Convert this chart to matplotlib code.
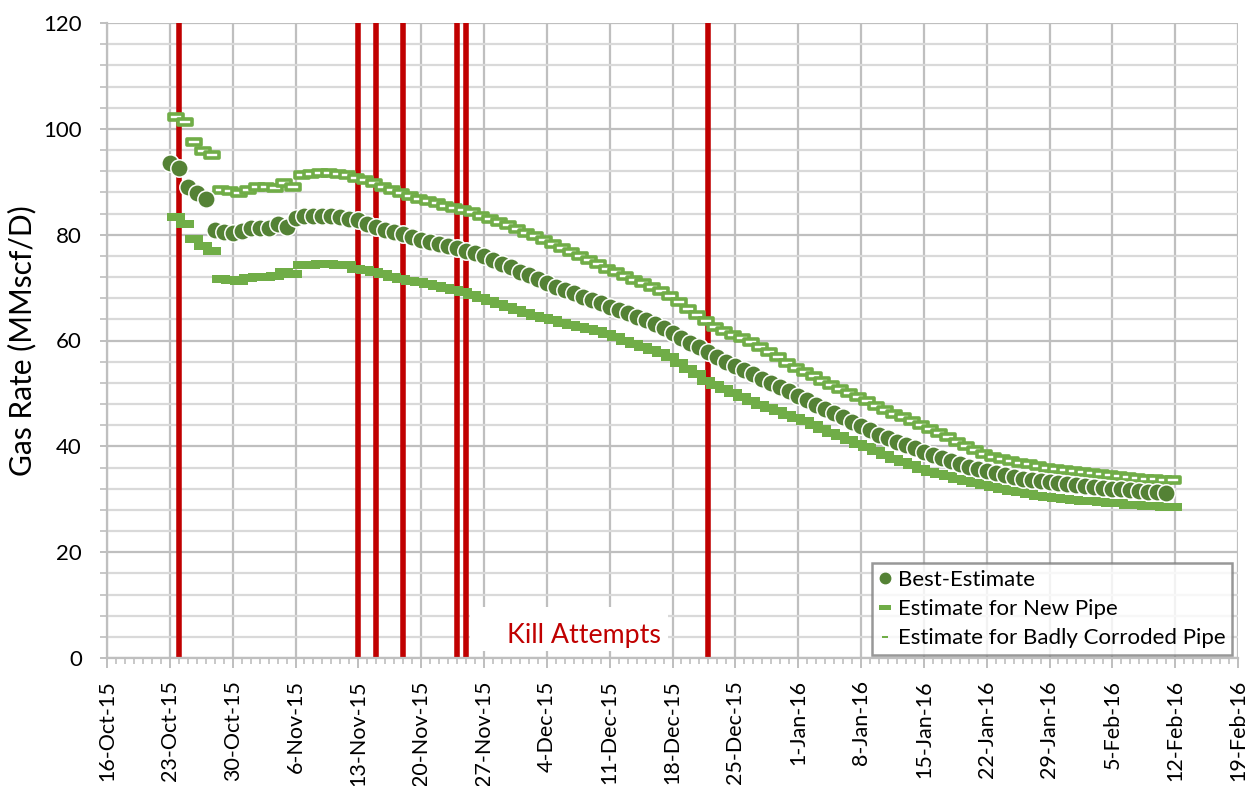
import matplotlib
matplotlib.use("Agg")
import matplotlib.pyplot as plt
import matplotlib.dates as mdates
from matplotlib.path import Path
from matplotlib.patches import Rectangle
from matplotlib.lines import Line2D
import pandas as pd

# Daily gas-rate estimates (MMscf/D), 23-Oct-15 .. 11-Feb-16
best_estimate = [
    93.6, 92.6, 89.0, 87.9, 86.8, 80.9, 80.5, 80.3, 80.7, 81.3,
    81.3, 81.2, 82.0, 81.5, 83.2, 83.5, 83.6, 83.6, 83.5, 83.3,
    83.0, 82.7, 82.1, 81.4, 80.9, 80.5, 80.1, 79.6, 79.0, 78.6,
    78.2, 77.8, 77.4, 77.0, 76.5, 75.9, 75.2, 74.5, 73.8, 73.0,
    72.3, 71.6, 70.9, 70.2, 69.6, 69.0, 68.3, 67.7, 67.0, 66.4,
    65.8, 65.2, 64.5, 63.8, 63.1, 62.3, 61.4, 60.5, 59.6, 58.7,
    57.8, 56.9, 56.0, 55.2, 54.4, 53.6, 52.8, 52.0, 51.2, 50.4,
    49.5, 48.7, 47.9, 47.1, 46.3, 45.5, 44.6, 43.8, 43.0, 42.2,
    41.5, 40.9, 40.3, 39.7, 39.0, 38.4, 37.8, 37.2, 36.6, 36.1,
    35.7, 35.3, 34.9, 34.5, 34.2, 33.9, 33.6, 33.4, 33.2, 33.0,
    32.8, 32.6, 32.5, 32.3, 32.2, 32.0, 31.9, 31.7, 31.6, 31.4,
    31.3, 31.2,
]
new_pipe = [
    102.3, 101.3, 97.5, 95.9, 95.0, 88.4, 88.3, 87.9, 88.5, 89.0,
    89.0, 88.8, 89.8, 89.0, 91.3, 91.5, 91.6, 91.6, 91.5, 91.3,
    90.8, 90.4, 89.7, 89.1, 88.5, 87.9, 87.4, 86.8, 86.3, 85.9,
    85.5, 85.1, 84.7, 84.2, 83.6, 83.0, 82.4, 81.8, 81.1, 80.4,
    79.7, 79.0, 78.3, 77.5, 76.7, 76.0, 75.2, 74.4, 73.6, 72.9,
    72.2, 71.5, 70.8, 70.1, 69.4, 68.5, 67.2, 66.0, 64.8, 63.6,
    62.6, 61.8, 61.1, 60.4, 59.8, 58.8, 57.8, 56.8, 55.8, 54.8,
    54.0, 53.2, 52.4, 51.6, 50.8, 50.0, 49.3, 48.5, 47.7, 46.9,
    46.2, 45.5, 44.8, 44.0, 43.3, 42.5, 41.7, 40.9, 40.1, 39.3,
    38.5, 38.0, 37.6, 37.2, 36.9, 36.6, 36.3, 36.0, 35.7, 35.5,
    35.3, 35.1, 34.9, 34.8, 34.6, 34.4, 34.2, 34.0, 33.9, 33.8,
    33.7, 33.6,
]
corroded_pipe = [
    83.3, 82.1, 79.2, 77.9, 77.0, 71.6, 71.5, 71.3, 71.9, 72.0,
    72.0, 72.2, 73.0, 72.5, 74.2, 74.3, 74.4, 74.4, 74.3, 74.2,
    73.6, 73.3, 73.0, 72.6, 72.0, 71.6, 71.3, 71.1, 70.7, 70.3,
    69.9, 69.5, 69.1, 68.6, 68.1, 67.5, 66.9, 66.3, 65.7, 65.2,
    64.7, 64.2, 63.8, 63.4, 63.0, 62.6, 62.2, 61.8, 61.2, 60.6,
    60.0, 59.4, 58.8, 58.2, 57.6, 56.9, 55.8, 54.7, 53.6, 52.4,
    51.6, 50.8, 50.0, 49.3, 48.6, 47.9, 47.2, 46.6, 46.0, 45.4,
    44.7, 44.0, 43.3, 42.6, 41.9, 41.2, 40.5, 39.8, 39.1, 38.4,
    37.7, 37.0, 36.4, 35.7, 35.2, 34.7, 34.3, 33.9, 33.5, 33.1,
    32.7, 32.3, 32.0, 31.6, 31.3, 31.0, 30.7, 30.4, 30.2, 30.0,
    29.8, 29.7, 29.6, 29.4, 29.3, 29.2, 29.0, 28.9, 28.8, 28.7,
    28.6, 28.5,
]
best_dates = pd.date_range("2015-10-23", periods=len(best_estimate), freq="D")
pipe_dates = pd.date_range("2015-10-23 17:00", periods=len(new_pipe), freq="D")

kill_attempts = pd.to_datetime([
    "2015-10-24", "2015-11-13", "2015-11-15", "2015-11-18",
    "2015-11-24", "2015-11-25", "2015-12-22",
])

x_start, x_end = pd.Timestamp("2015-10-16"), pd.Timestamp("2016-02-19")
y_ticks = [0, 20, 40, 60, 80, 100, 120]

series_labels = ["Best-Estimate", "Estimate for New Pipe",
                 "Estimate for Badly Corroded Pipe"]
kill_label = "Kill Attempts"
y_label = "Gas Rate (MMscf/D)"

dark_green = "#548235"
light_green = "#70AD47"
kill_red = "#C00000"
major_grid = "#BFBFBF"
minor_grid = "#D9D9D9"

plt.rcParams["font.family"] = ["Lato", "DejaVu Sans"]

fig = plt.figure(figsize=(12.51, 7.86), dpi=100)
ax = fig.add_axes([107 / 1251, (786 - 658) / 786, 1131 / 1251, 635 / 786])

# wide rectangular markers used for the pipe estimates
rect_new = Path([(-1, -0.45), (1, -0.45), (1, 0.45), (-1, 0.45), (-1, -0.45)],
                [Path.MOVETO, Path.LINETO, Path.LINETO, Path.LINETO, Path.CLOSEPOLY])
rect_cor = Path([(-1, -0.42), (1, -0.42), (1, 0.42), (-1, 0.42), (-1, -0.42)],
                [Path.MOVETO, Path.LINETO, Path.LINETO, Path.LINETO, Path.CLOSEPOLY])

for d in kill_attempts:
    ax.axvline(d, color=kill_red, lw=4.0, zorder=2, solid_capstyle="butt")

ax.plot(pipe_dates, corroded_pipe, ls="none", marker=rect_cor, ms=12.5,
        mfc=light_green, mec=light_green, mew=0, zorder=3)
ax.plot(pipe_dates, new_pipe, ls="none", marker=rect_new, ms=10.2,
        mfc="white", mec=light_green, mew=2.6, zorder=3)
ax.plot(best_dates, best_estimate, ls="none", marker="o", ms=12.5,
        mfc=dark_green, mec="white", mew=1.1, zorder=4)

ax.set_xlim(x_start, x_end)
ax.set_ylim(0, 120)
ax.set_yticks(y_ticks)
ax.set_yticks(range(0, 121, 4), minor=True)

ax.xaxis.set_major_locator(mdates.WeekdayLocator(byweekday=mdates.FR))
ax.xaxis.set_minor_locator(mdates.DayLocator())
ax.xaxis.set_major_formatter(
    plt.FuncFormatter(lambda v, p: "{}-{}".format(mdates.num2date(v).day,
                                                  mdates.num2date(v).strftime("%b-%y"))))

ax.grid(True, which="major", axis="both", color=major_grid, lw=1.6, zorder=0)
ax.grid(True, which="minor", axis="y", color=minor_grid, lw=1.6, zorder=0)
ax.set_axisbelow(True)

for s in ["top", "right"]:
    ax.spines[s].set_visible(False)
for s in ["left", "bottom"]:
    ax.spines[s].set_color(major_grid)
    ax.spines[s].set_linewidth(1.6)

ax.tick_params(axis="x", which="major", length=7, width=1.4, color=major_grid,
               labelsize=15.5, labelrotation=90, pad=9)
ax.tick_params(axis="x", which="minor", length=4, width=1.2, color=major_grid)
ax.tick_params(axis="y", which="major", length=5, width=1.4, color=major_grid,
               labelsize=16, pad=13)
ax.tick_params(axis="y", which="minor", length=5, width=1.2, color=major_grid)

ax.set_ylabel(y_label, fontsize=21.5, labelpad=5)

# label box for the kill attempts
ax.add_patch(Rectangle((0.321, 0.011), 0.175, 0.069, transform=ax.transAxes,
                       facecolor="white", edgecolor="none", zorder=1.5))
ax.text(0.4218, 0.0236, kill_label, transform=ax.transAxes, color=kill_red,
        fontsize=19.3, ha="center", va="baseline", zorder=5)

handles = [
    Line2D([], [], ls="none", marker="o", ms=7.5, mfc=dark_green, mec=dark_green),
    Line2D([], [], ls="none", marker=rect_new, ms=8, mfc=light_green, mec=light_green, mew=0),
    Line2D([], [], ls="none", marker=rect_cor, ms=5, mfc=light_green, mec=light_green, mew=0),
]
leg = ax.legend(handles, series_labels, loc="lower right",
                bbox_to_anchor=((1232 - 107) / 1131, (658 - 655) / 635),
                fontsize=16, frameon=True, fancybox=False, handlelength=0.55,
                handletextpad=0.3, borderpad=0.3, labelspacing=0.42,
                borderaxespad=0)
leg.get_frame().set_edgecolor("#7F7F7F")
leg.get_frame().set_linewidth(1.8)
leg.set_zorder(6)

fig.savefig("out.png", dpi=100)
